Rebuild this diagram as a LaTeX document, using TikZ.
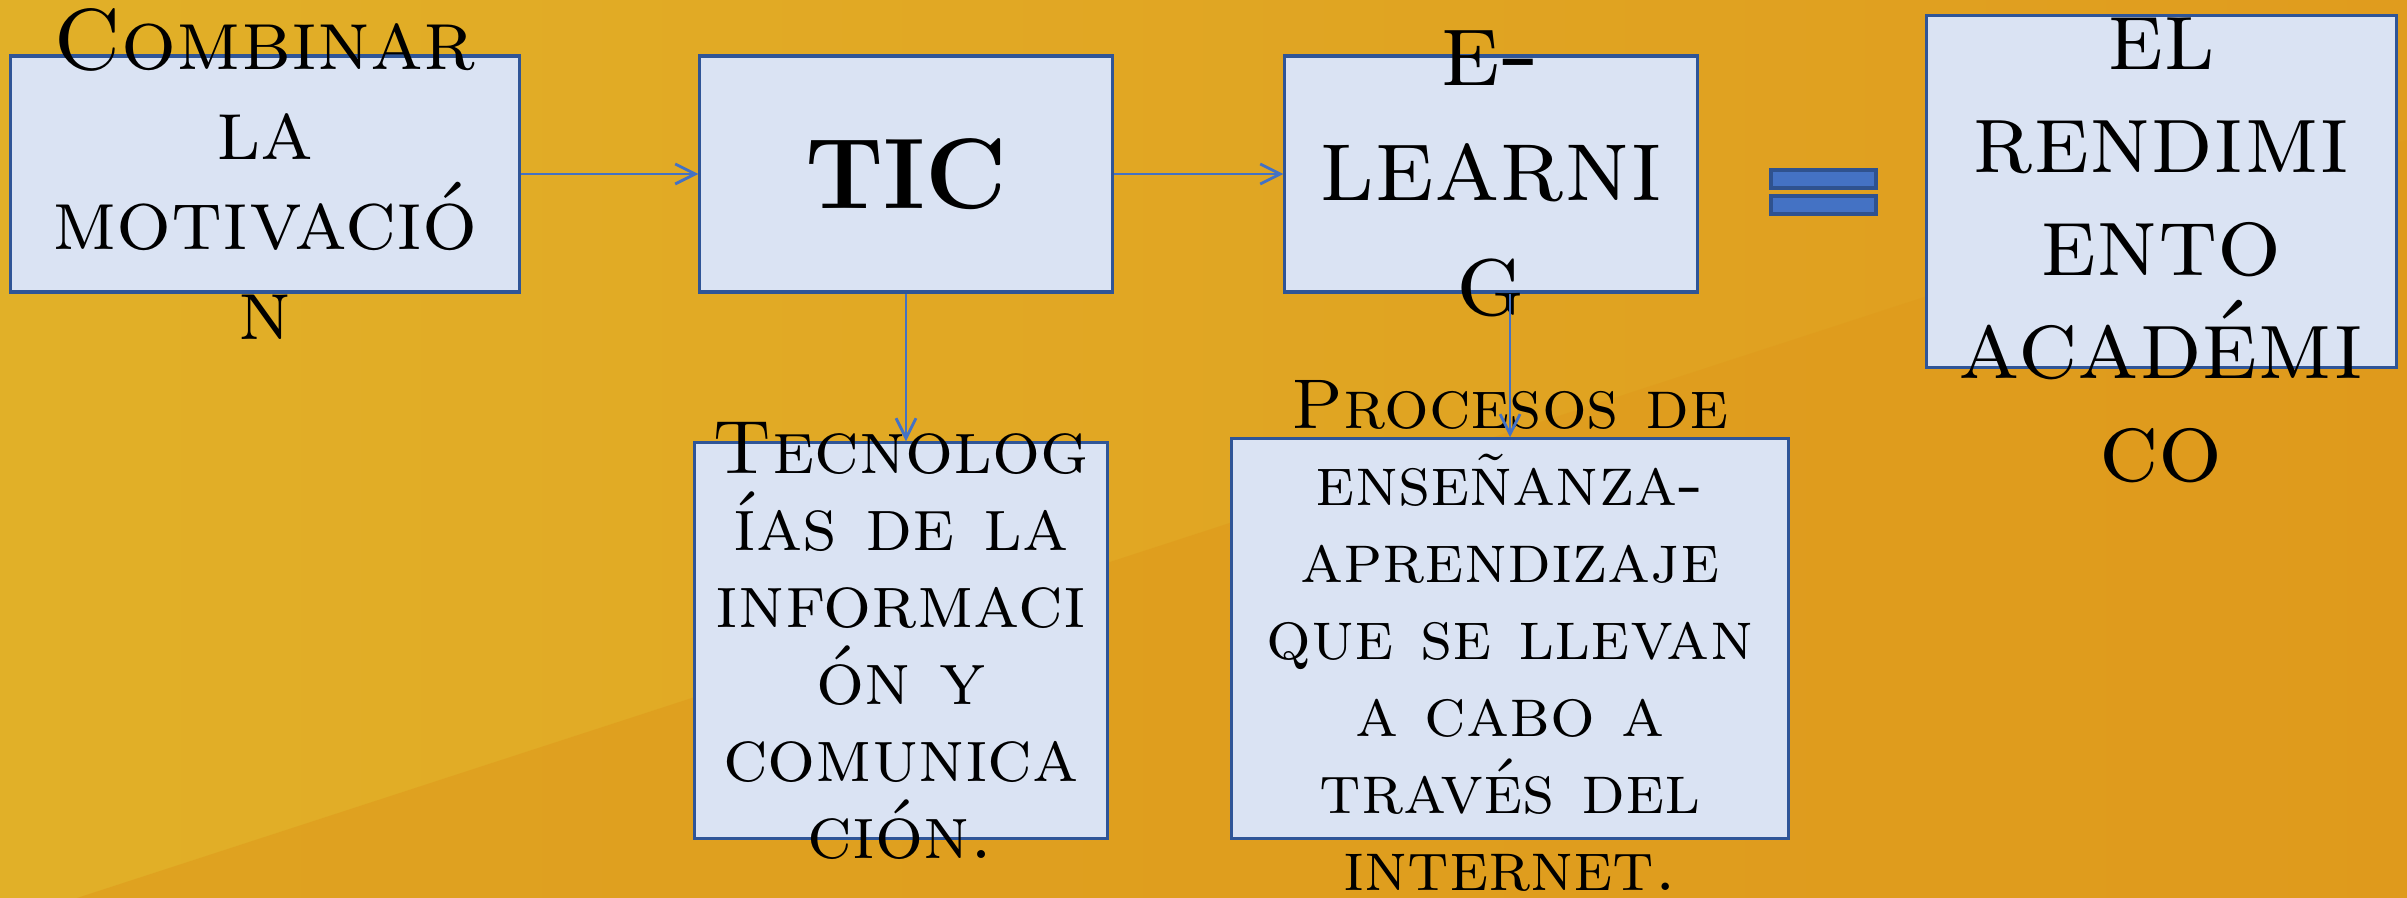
\documentclass[tikz,border=0pt]{standalone}
\usetikzlibrary{positioning}
\usetikzlibrary{arrows.meta}
\definecolor{bgleft}{HTML}{E1B028}
\definecolor{bgright}{HTML}{E09C1E}
\definecolor{bgdark}{HTML}{DF9A1C}
\definecolor{boxfill}{HTML}{DAE3F3}
\definecolor{boxline}{HTML}{2F5597}
\definecolor{arrowblue}{HTML}{4472C4}
\definecolor{eqline}{HTML}{2F528F}
\newcommand{\combfont}{\fontsize{24.6pt}{25.6pt}\selectfont\scshape}
\newcommand{\ticfont}{\fontsize{28.5pt}{30pt}\selectfont\bfseries}
\newcommand{\elfont}{\fontsize{30.5pt}{32.7pt}\selectfont\scshape}
\newcommand{\rendfont}{\fontsize{28.6pt}{29.3pt}\selectfont\scshape}
\newcommand{\tecnofont}{\fontsize{21.5pt}{21.9pt}\selectfont\scshape}
\newcommand{\procfont}{\fontsize{20pt}{21.9pt}\selectfont\scshape}
\tikzset{
    box/.style = {rectangle, draw=boxline, line width=0.9pt, fill=boxfill, inner sep=0pt},
    txt/.style = {align=center, text=black, inner sep=0pt},
    flow/.style = {-{Straight Barb[length=2mm,width=2mm]}, draw=arrowblue, line width=0.8pt},
    eqbar/.style = {rectangle, fill=arrowblue, draw=eqline, line width=1.3pt, minimum width=1.05cm, minimum height=0.18cm, inner sep=0pt},
}
\begin{document}
\begin{tikzpicture}[x=0.01cm,y=-0.01cm]
\useasboundingbox (0,0) rectangle (2407,898);
% background
\shade[left color=bgleft,right color=bgright] (0,0) rectangle (2407,898);
\fill[bgdark,opacity=0.6] (77,898) -- (2407,140) -- (2407,898) -- cycle;
%
\node[box,minimum width=5.08cm,minimum height=2.36cm] at (265,174) (comb) {};
\node[box,minimum width=4.12cm,minimum height=2.36cm] at (906,174) (tic) {};
\node[box,minimum width=4.12cm,minimum height=2.36cm] at (1491,174) (elearn) {};
\node[box,minimum width=4.69cm,minimum height=3.51cm] at (2161.5,191.5) (rend) {};
\node[box,minimum width=4.12cm,minimum height=3.95cm] at (901,640.5) (tecno) {};
\node[box,minimum width=5.56cm,minimum height=3.99cm] at (1510,638.5) (proc) {};
\node[eqbar] at (1823.5,179) (eqa) {};
\node[eqbar] at (1823.5,205) (eqb) {};
%
\node[txt,font=\combfont] at (comb.center) (combtxt) {Combinar\\la\\motivació\\n};
\node[txt,font=\ticfont] at (tic.center) (tictxt) {TIC};
\node[txt,font=\elfont] at (elearn.center) (eltxt) {e-\\learni\\g};
\node[txt,font=\rendfont] at (2161,250) (rendtxt) {el\\rendimi\\ento\\académi\\co};
\node[txt,font=\tecnofont] at (tecno.center) (tecnotxt) {Tecnolog\\ías de la\\informaci\\ón y\\comunica\\ción.};
\node[txt,font=\procfont] at (1510,636) (proctxt) {Procesos de\\enseñanza-\\aprendizaje\\que se llevan\\a cabo a\\través del\\internet.};
%
\draw[flow] (comb.east) -- (tic.west);
\draw[flow] (tic.east) -- (elearn.west);
\draw[flow] (tic.south) -- (tic.south |- tecno.north);
\draw[flow] (elearn.south -| proc.north) -- (proc.north);
\end{tikzpicture}
\end{document}
